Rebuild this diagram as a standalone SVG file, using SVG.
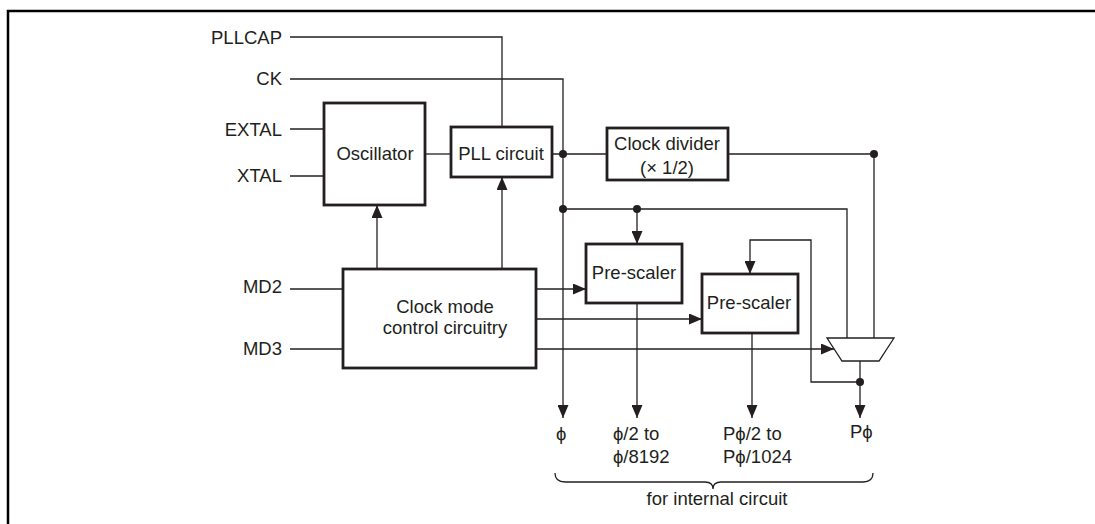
<svg xmlns="http://www.w3.org/2000/svg" width="1095" height="524" viewBox="0 0 1095 524">
<defs>
<marker id="ah" viewBox="0 0 13 11" refX="13" refY="5.5" markerWidth="13" markerHeight="11" markerUnits="userSpaceOnUse" orient="auto">
<path d="M0,0 L13,5.5 L0,11 Z" fill="#231f20"/>
</marker>
<style>
.box{fill:#fff;stroke:#231f20;stroke-width:2.8}
.ln{fill:none;stroke:#231f20;stroke-width:1.3}
.ar{fill:none;stroke:#231f20;stroke-width:1.3;marker-end:url(#ah)}
.dot{fill:#231f20}
text{font-family:"Liberation Sans",Arial,sans-serif;font-size:18.5px;fill:#231f20}
.r{text-anchor:end}
.c{text-anchor:middle}
</style>
</defs>
<rect x="8" y="11" width="1100" height="530" fill="none" stroke="#000" stroke-width="2.5"/>
<g id="labels">
<text class="r" x="282" y="44">PLLCAP</text>
<text class="r" x="282" y="85">CK</text>
<text class="r" x="282" y="136">EXTAL</text>
<text class="r" x="282" y="182">XTAL</text>
<text class="r" x="282" y="293">MD2</text>
<text class="r" x="282" y="355">MD3</text>
<text x="556" y="440">ϕ</text>
<text x="613" y="440">ϕ/2 to</text>
<text x="613" y="463">ϕ/8192</text>
<text x="723" y="440">Pϕ/2 to</text>
<text x="723" y="463">Pϕ/1024</text>
<text x="850" y="438">Pϕ</text>
<text class="c" x="717" y="505">for internal circuit</text>
</g>
<g id="connectors">
<polyline class="ln" points="290,37 502,37 502,127"/>
<polyline class="ar" points="290,79 563,79 563,418"/>
<line class="ln" x1="290" y1="129" x2="324" y2="129"/>
<line class="ln" x1="290" y1="176" x2="324" y2="176"/>
<line class="ln" x1="425" y1="154" x2="451" y2="154"/>
<line class="ln" x1="552" y1="154" x2="607" y2="154"/>
<polyline class="ln" points="728,154 874,154 874,338"/>
<polyline class="ln" points="563,209 847,209 847,338"/>
<line class="ar" x1="637" y1="209" x2="637" y2="244"/>
<line class="ar" x1="377" y1="269" x2="377" y2="205"/>
<line class="ar" x1="502" y1="269" x2="502" y2="177"/>
<line class="ln" x1="290" y1="289" x2="343" y2="289"/>
<line class="ln" x1="290" y1="349" x2="343" y2="349"/>
<line class="ar" x1="536" y1="289" x2="586" y2="289"/>
<line class="ar" x1="536" y1="319" x2="702" y2="319"/>
<line class="ar" x1="536" y1="349" x2="834" y2="349"/>
<line class="ar" x1="637" y1="303" x2="637" y2="418"/>
<line class="ar" x1="752" y1="333" x2="752" y2="418"/>
<line class="ar" x1="860" y1="361" x2="860" y2="418"/>
<polyline class="ar" points="860,382 811,382 811,240 750,240 750,274"/>
<path class="ln" d="M555,473 Q555,482 565,482 L705,482 Q713,482 713,489 Q713,482 721,482 L863,482 Q873,482 873,473"/>
<circle class="dot" cx="563" cy="154" r="4"/>
<circle class="dot" cx="563" cy="209" r="4"/>
<circle class="dot" cx="637" cy="209" r="4"/>
<circle class="dot" cx="874" cy="154" r="4"/>
<circle class="dot" cx="860" cy="382" r="4"/>
</g>
<g id="oscillator">
<rect class="box" x="324" y="103" width="101" height="102"/>
<text class="c" x="375" y="160">Oscillator</text>
</g>
<g id="pll">
<rect class="box" x="451" y="127" width="101" height="50"/>
<text class="c" x="501" y="160">PLL circuit</text>
</g>
<g id="divider">
<rect class="box" x="607" y="128" width="121" height="52"/>
<text class="c" x="667" y="150">Clock divider</text>
<text class="c" x="667" y="174">(× 1/2)</text>
</g>
<g id="clockmode">
<rect class="box" x="343" y="269" width="193" height="99"/>
<text class="c" x="445" y="313">Clock mode</text>
<text class="c" x="445" y="334">control circuitry</text>
</g>
<g id="prescaler1">
<rect class="box" x="586" y="244" width="96" height="59"/>
<text class="c" x="634" y="279">Pre-scaler</text>
</g>
<g id="prescaler2">
<rect class="box" x="702" y="274" width="96" height="59"/>
<text class="c" x="749" y="309">Pre-scaler</text>
</g>
<g id="mux">
<polygon points="827,338 894,338 879,361 842,361" fill="#fff" stroke="#231f20" stroke-width="1.3"/>
</g>
</svg>
